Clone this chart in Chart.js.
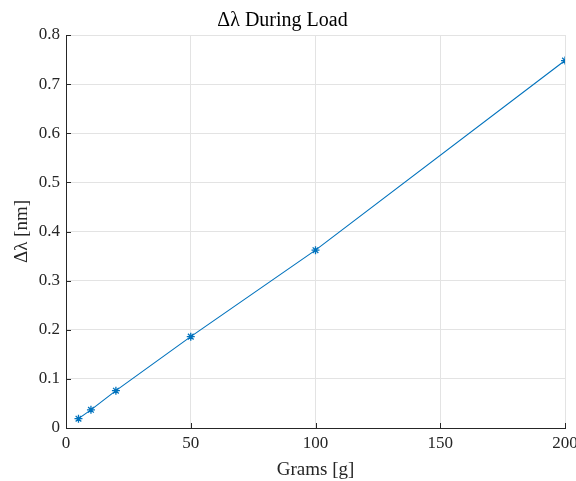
<!DOCTYPE html>
<html lang="en">
<head>
  <meta charset="UTF-8" />
  <title>Delta lambda during load</title>
  <style>
    body { margin: 0; background: #fff; }
    #wrap { width: 576px; height: 481px; }
  </style>
</head>
<body>
  <div id="wrap"><canvas id="chart" width="576" height="481"></canvas></div>

  <script src="https://cdn.jsdelivr.net/npm/chart.js"></script>
  <script>
    // data
    const grams = [5, 10, 20, 50, 100, 200];
    const deltaLambda = [0.019, 0.037, 0.076, 0.186, 0.362, 0.748];
    const xTicks = [0, 50, 100, 150, 200];
    const yTicks = [0, 0.1, 0.2, 0.3, 0.4, 0.5, 0.6, 0.7, 0.8];

    const serif = "'Liberation Serif', 'Times New Roman', serif";
    const axisColor = "#262626";
    const gridColor = "#e3e3e3";

    // MATLAB-style ticks pointing into the axes
    const innerTicks = {
      id: "innerTicks",
      afterDraw(chart) {
        const { ctx, chartArea, scales } = chart;
        ctx.save();
        ctx.strokeStyle = axisColor;
        ctx.lineWidth = 1;
        ctx.beginPath();
        xTicks.forEach(v => {
          const x = Math.round(scales.x.getPixelForValue(v)) + 0.5;
          ctx.moveTo(x, chartArea.bottom);
          ctx.lineTo(x, chartArea.bottom - 5);
        });
        yTicks.forEach(v => {
          const y = Math.round(scales.y.getPixelForValue(v)) + 0.5;
          ctx.moveTo(chartArea.left, y);
          ctx.lineTo(chartArea.left + 5, y);
        });
        ctx.stroke();
        ctx.restore();
      }
    };

    new Chart(document.getElementById("chart"), {
      type: "line",
      data: {
        datasets: [{
          data: grams.map((g, i) => ({ x: g, y: deltaLambda[i] })),
          borderColor: "#0072BD",
          backgroundColor: "#0072BD",
          borderWidth: 1.1,
          pointStyle: "star",
          pointRadius: 4,
          pointBorderWidth: 1.3,
          tension: 0,
          fill: false
        }]
      },
      options: {
        responsive: false,
        animation: false,
        layout: { padding: { left: 0, right: 11, top: 0, bottom: 0 } },
        plugins: {
          legend: { display: false },
          tooltip: { enabled: false },
          title: {
            display: true,
            text: "Δλ During Load",
            color: "#000",
            font: { family: serif, size: 20, weight: "normal" },
            padding: { top: 9, bottom: 2 }
          }
        },
        scales: {
          x: {
            type: "linear",
            min: 0,
            max: 200,
            afterBuildTicks: s => { s.ticks = xTicks.map(v => ({ value: v })); },
            afterFit: s => { s.height = 53; s.paddingRight = 0; s.paddingLeft = 0; },
            grid: { color: gridColor, drawTicks: false },
            border: { color: axisColor, width: 1 },
            ticks: {
              color: "#262626",
              padding: 5,
              maxRotation: 0,
              font: { family: serif, size: 17 }
            },
            title: {
              display: true,
              text: "Grams [g]",
              color: "#262626",
              font: { family: serif, size: 19 },
              padding: { top: 2, bottom: 0 }
            }
          },
          y: {
            type: "linear",
            min: 0,
            max: 0.8,
            afterBuildTicks: s => { s.ticks = yTicks.map(v => ({ value: v })); },
            afterFit: s => { s.width = 66; },
            grid: { color: gridColor, drawTicks: false },
            border: { color: axisColor, width: 1 },
            ticks: {
              color: "#262626",
              padding: 6,
              font: { family: serif, size: 17 },
              callback: v => (v === 0 ? "0" : v.toFixed(1))
            },
            title: {
              display: true,
              text: "Δλ [nm]",
              color: "#262626",
              font: { family: serif, size: 19 },
              padding: { top: 11, bottom: 4 }
            }
          }
        }
      },
      plugins: [innerTicks]
    });
  </script>
</body>
</html>
